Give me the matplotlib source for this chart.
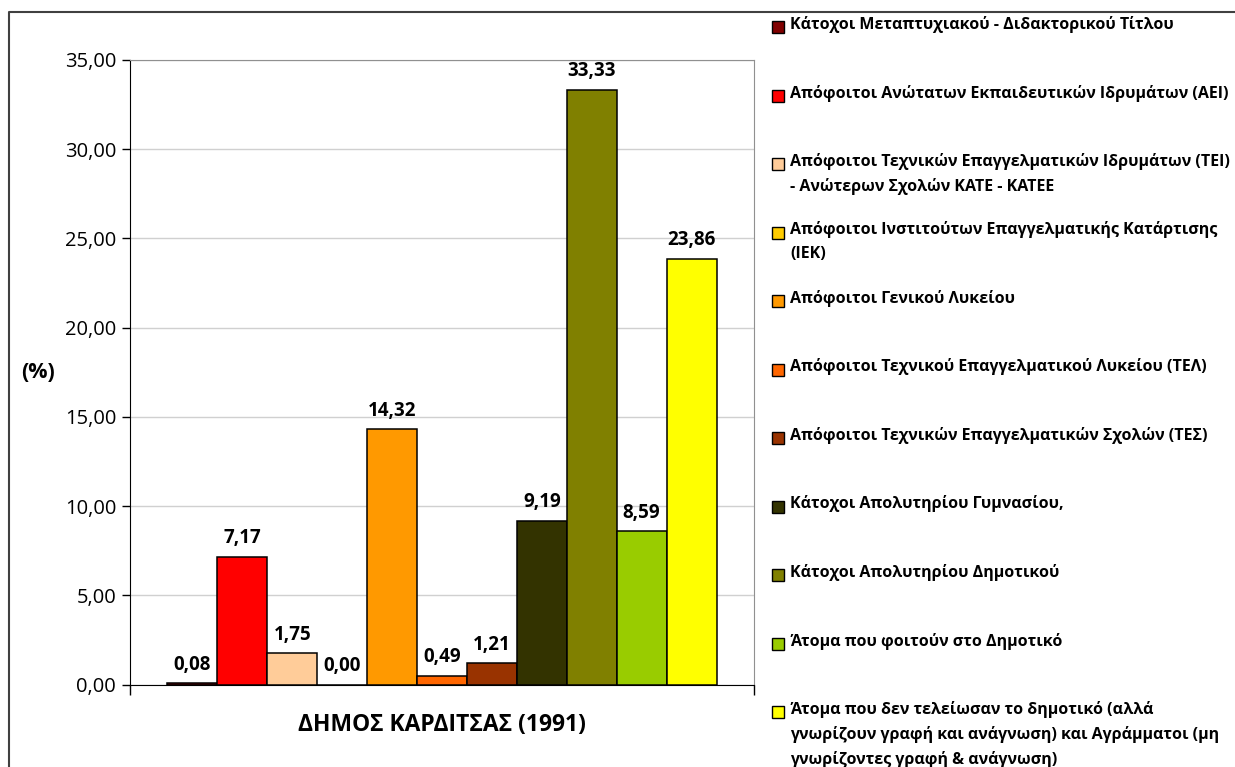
import numpy as np
import matplotlib
matplotlib.use("Agg")
import matplotlib.pyplot as plt
from matplotlib.patches import Rectangle
from matplotlib.lines import Line2D
from matplotlib.ticker import FuncFormatter, MultipleLocator

plt.rcParams['font.family'] = ['Open Sans', 'DejaVu Sans']

# data
categories = [
    "Κάτοχοι Μεταπτυχιακού - Διδακτορικού Τίτλου",
    "Απόφοιτοι Ανώτατων Εκπαιδευτικών Ιδρυμάτων (ΑΕΙ)",
    "Απόφοιτοι Τεχνικών Επαγγελματικών Ιδρυμάτων (ΤΕΙ)\n- Ανώτερων Σχολών ΚΑΤΕ - ΚΑΤΕΕ",
    "Απόφοιτοι Ινστιτούτων Επαγγελματικής Κατάρτισης\n(ΙΕΚ)",
    "Απόφοιτοι Γενικού Λυκείου",
    "Απόφοιτοι Τεχνικού Επαγγελματικού Λυκείου (ΤΕΛ)",
    "Απόφοιτοι Τεχνικών Επαγγελματικών Σχολών (ΤΕΣ)",
    "Κάτοχοι Απολυτηρίου Γυμνασίου,",
    "Κάτοχοι Απολυτηρίου Δημοτικού",
    "Άτομα που φοιτούν στο Δημοτικό",
    "Άτομα που δεν τελείωσαν το δημοτικό (αλλά\nγνωρίζουν γραφή και ανάγνωση) και Αγράμματοι (μη\nγνωρίζοντες γραφή & ανάγνωση)",
]
values = [0.08, 7.17, 1.75, 0.00, 14.32, 0.49, 1.21, 9.19, 33.33, 8.59, 23.86]
colors = ["#800000", "#FF0000", "#FFCC99", "#FFCC00", "#FF9900", "#FF6600",
          "#993300", "#333300", "#808000", "#99CC00", "#FFFF00"]
group_label = "ΔΗΜΟΣ ΚΑΡΔΙΤΣΑΣ (1991)"


def fmt(v, pos=None):
    return "{:.2f}".format(v).replace(".", ",")


W, H = 1235, 767
fig = plt.figure(figsize=(W / 100, H / 100), dpi=100)
ax = fig.add_axes([130 / W, 1 - 684.5 / H, 624 / W, 624.5 / H])

n = len(values)
bw = 0.88 / n
xs = (np.arange(n) - (n - 1) / 2) * bw
ax.bar(xs, values, width=bw, color=colors, edgecolor="black", linewidth=1.1, zorder=3)
for x, v in zip(xs, values):
    ax.annotate(fmt(v), (x, v), xytext=(0, 6), textcoords="offset points",
                ha="center", va="bottom", fontsize=13.5, fontweight="bold", zorder=4)

ax.set_xlim(-0.5, 0.5)
ax.set_ylim(0, 35)
ax.yaxis.set_major_locator(MultipleLocator(5))
ax.yaxis.set_major_formatter(FuncFormatter(fmt))
ax.grid(axis="y", color="#d0d0d0", linewidth=1.0, zorder=0)
ax.set_xticks([-0.5, 0.5])
ax.set_xticklabels(["", ""])
ax.tick_params(axis="x", direction="out", length=7, width=1)
ax.tick_params(axis="y", direction="out", length=6, width=1, labelsize=14.5, pad=4)
for s in ["top", "right"]:
    ax.spines[s].set_color("#909090")
for s in ["left", "bottom"]:
    ax.spines[s].set_color("black")

fig.text(38 / W, 1 - 372 / H, "(%)", ha="center", va="center",
         fontsize=15.5, fontweight="bold")
fig.text(442 / W, 1 - 725 / H, group_label, ha="center", va="center",
         fontsize=16.5, fontweight="bold")

# legend drawn by hand to keep the even slot spacing
for i, (lab, c) in enumerate(zip(categories, colors)):
    yc = 27 + i * 68.5
    fig.patches.append(Rectangle((772 / W, 1 - (yc + 6) / H), 12 / W, 12 / H,
                                 transform=fig.transFigure, facecolor=c,
                                 edgecolor="black", linewidth=1.0))
    fig.text(790 / W, 1 - (yc - 11) / H, lab, ha="left", va="top",
             fontsize=11.5, fontweight="bold", linespacing=1.6)

# chart area frame
fig.add_artist(Line2D([9 / W, 9 / W, 1.0], [0.0, 1 - 12 / H, 1 - 12 / H],
                      transform=fig.transFigure, color="#404040", linewidth=1.5))

fig.savefig("out.png", dpi=100)
